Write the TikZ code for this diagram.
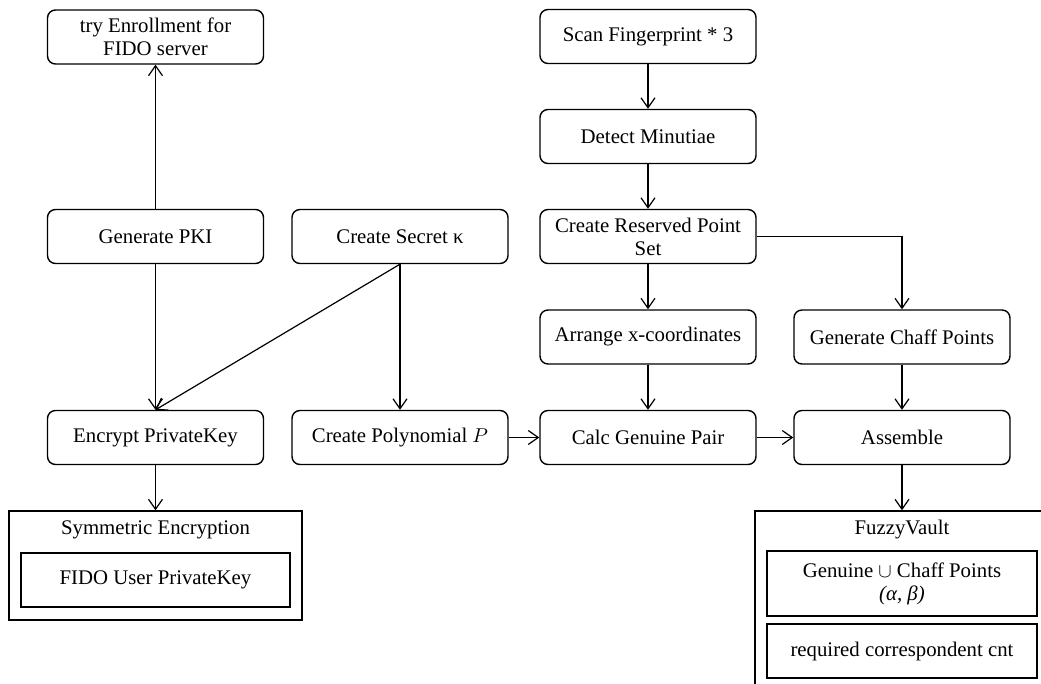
\documentclass[tikz,border=0pt]{standalone}
\usepackage{fontspec}
\setmainfont{Liberation Serif}
\usetikzlibrary{arrows.meta}

\begin{document}
\begin{tikzpicture}[x=0.5pt,y=-0.5pt,
    font=\fontsize{10.4}{11.5}\selectfont,
    box/.style={draw, line width=0.7pt, rounded corners=4pt, minimum width=108pt,
        minimum height=27pt, inner sep=0pt, align=center},
    plainbox/.style={draw, line width=0.7pt, inner sep=0pt, align=center},
    arr/.style={-{Straight Barb[length=5pt,width=7pt]}, line width=0.6pt}]
    \clip (0,0) rectangle (1041,684);

    \node[box] (enroll) at (155.5,37) {try Enrollment for\\FIDO server};
    \node[box] (pki) at (155.5,236.5) {Generate PKI};
    \node[box] (secret) at (400,236.5) {Create Secret κ};
    \node[box] (encrypt) at (155.5,437.5) {Encrypt PrivateKey};
    \node[box] (poly) at (400,437.5) {Create Polynomial $P$};

    \node[box] (scan) at (648,36.5) {Scan Fingerprint * 3};
    \node[box] (detect) at (648,136.5) {Detect Minutiae};
    \node[box] (reserved) at (648,236.5) {Create Reserved Point\\Set};
    \node[box] (arrange) at (648,337) {Arrange x-coordinates};
    \node[box] (calc) at (648,437.5) {Calc Genuine Pair};
    \node[box] (chaff) at (902,337) {Generate Chaff Points};
    \node[box] (assemble) at (902,437.5) {Assemble};

    % symmetric encryption container
    \node[plainbox, minimum width=146.5pt, minimum height=54.5pt] (symenc) at (155.5,565.5) {};
    \node (symtitle) at (155.5,530) {Symmetric Encryption};
    \node[plainbox, minimum width=134.5pt, minimum height=27pt] (fidokey) at (155.5,580) {FIDO User PrivateKey};

    % fuzzy vault container
    \node[plainbox, minimum width=147pt, minimum height=89.5pt] (vault) at (902,600.5) {};
    \node (vaulttitle) at (902,530) {FuzzyVault};
    \node[plainbox, minimum width=135pt, minimum height=32.5pt] (genchaff) at (902,583.5)
        {Genuine $\cup$ Chaff Points\\\textit{(α, β)}};
    \node[plainbox, minimum width=135pt, minimum height=27pt] (reqcnt) at (902,651) {required correspondent cnt};

    \draw[arr] (pki) -- (enroll);
    \draw[arr] (pki) -- (encrypt);
    \draw[arr] (secret.south) -- (encrypt.north);
    \draw[arr] (secret) -- (poly);
    \draw[arr] (encrypt) -- (symenc);
    \draw[arr] (poly) -- (calc);

    \draw[arr] (scan) -- (detect);
    \draw[arr] (detect) -- (reserved);
    \draw[arr] (reserved) -- (arrange);
    \draw[arr] (arrange) -- (calc);
    \draw[arr] (reserved.east) -| (chaff.north);
    \draw[arr] (chaff) -- (assemble);
    \draw[arr] (calc) -- (assemble);
    \draw[arr] (assemble) -- (vault);
\end{tikzpicture}
\end{document}
